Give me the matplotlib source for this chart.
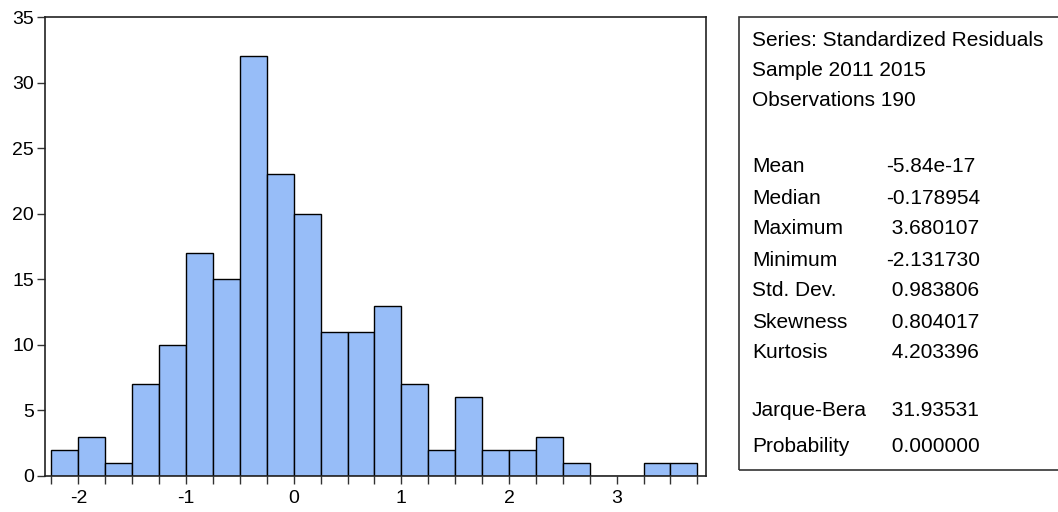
"""Histogram of standardized residuals with EViews-style statistics box."""
import numpy as np
import matplotlib.pyplot as plt
from matplotlib.patches import Rectangle

plt.rcParams['font.family'] = ['Liberation Sans', 'DejaVu Sans']

# histogram: bins of width 0.25 starting at -2.25
bin_start = -2.25
bin_width = 0.25
counts = [2, 3, 1, 7, 10, 17, 15, 32, 23, 20, 11, 11, 13, 7, 2, 6, 2, 2, 3, 1, 0, 0, 1, 1]
x_ticks = [-2, -1, 0, 1, 2, 3]
y_ticks = [0, 5, 10, 15, 20, 25, 30, 35]

header_lines = ["Series: Standardized Residuals", "Sample 2011 2015", "Observations 190"]
stat_names = ["Mean", "Median", "Maximum", "Minimum", "Std. Dev.", "Skewness", "Kurtosis"]
stat_values = ["-5.84e-17", "-0.178954", " 3.680107", "-2.131730", " 0.983806", " 0.804017", " 4.203396"]
test_names = ["Jarque-Bera", "Probability"]
test_values = [" 31.93531", " 0.000000"]

edges = bin_start + bin_width * np.arange(len(counts) + 1)

fig = plt.figure(figsize=(10.58, 5.12), dpi=100)
ax = fig.add_axes([45 / 1058, 1 - 476 / 512, 661 / 1058, 459 / 512])

ax.bar(edges[:-1], counts, width=bin_width, align="edge",
       color="#97BDF8", edgecolor="black", linewidth=1.0)

ax.set_xlim(-2.31, 3.83)
ax.set_ylim(0, 35)
ax.set_xticks(x_ticks)
ax.set_xticklabels([str(t) for t in x_ticks])
ax.set_xticks(edges, minor=True)
ax.set_yticks(y_ticks)
ax.tick_params(axis="both", which="both", direction="out", length=6, width=1.0,
               labelsize=14, color="#333333")
ax.tick_params(axis="x", pad=4)
ax.tick_params(axis="y", pad=2)
for s in ax.spines.values():
    s.set_linewidth(1.2)
    s.set_color("#222222")

# statistics box
box = Rectangle((739 / 1058, 1 - 470 / 512), 330 / 1058, 453 / 512,
                transform=fig.transFigure, fill=False, edgecolor="#333333",
                linewidth=1.2, clip_on=False)
fig.add_artist(box)

x_name = 752 / 1058
x_val = 886 / 1058
fs = 15
for i, line in enumerate(header_lines):
    fig.text(x_name, 1 - (41 + 30 * i) / 512, line, fontsize=fs, va="center")
for i, (n, v) in enumerate(zip(stat_names, stat_values)):
    y = 1 - (167 + 31 * i) / 512
    fig.text(x_name, y, n, fontsize=fs, va="center")
    fig.text(x_val, y, v, fontsize=fs, va="center")
for i, (n, v) in enumerate(zip(test_names, test_values)):
    y = 1 - (410 + 37 * i) / 512
    fig.text(x_name, y, n, fontsize=fs, va="center")
    fig.text(x_val, y, v, fontsize=fs, va="center")

fig.savefig("out.png", dpi=100)
